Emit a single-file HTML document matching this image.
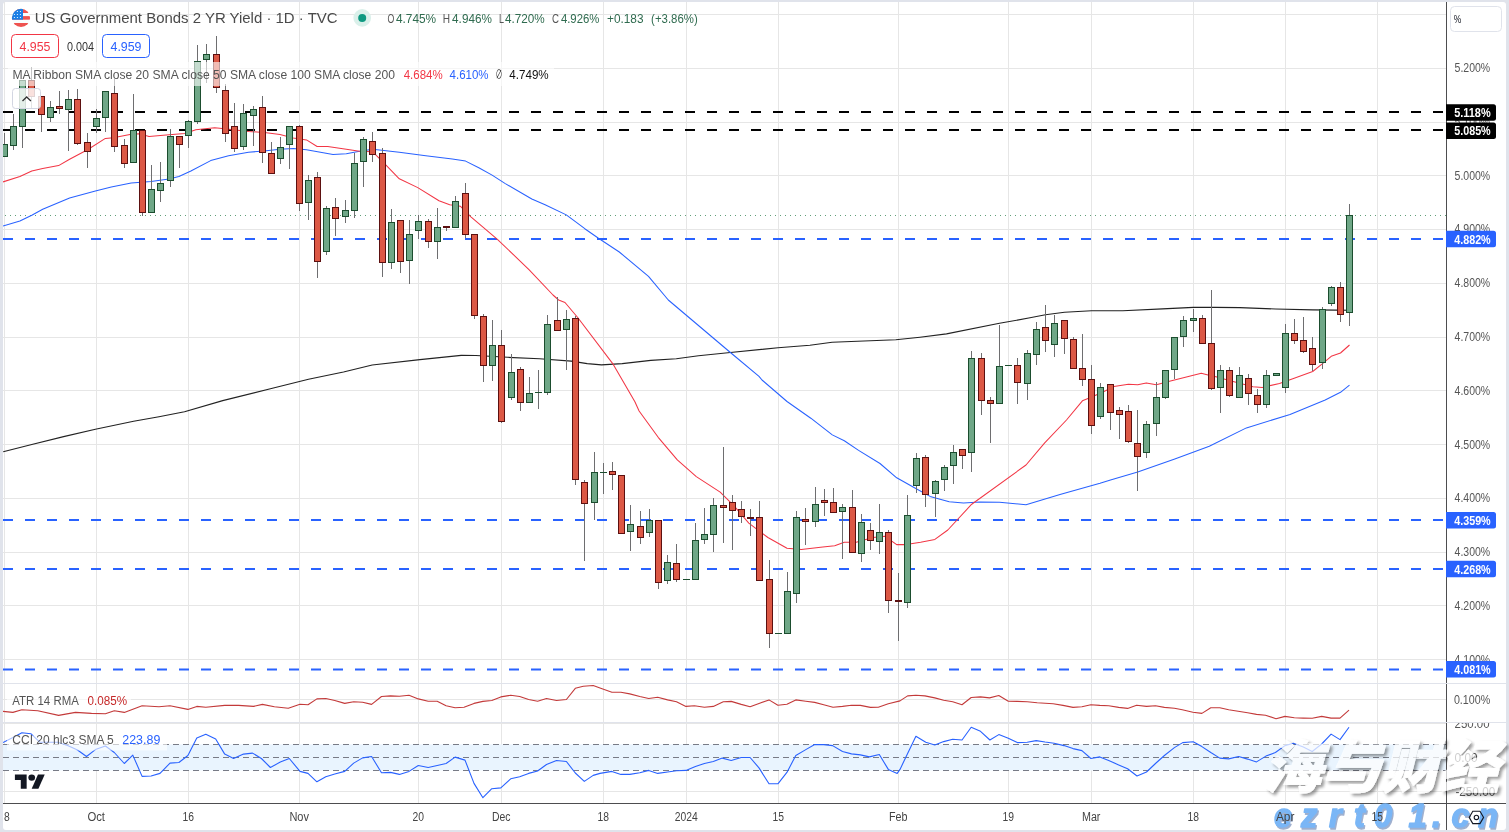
<!DOCTYPE html><html><head><meta charset="utf-8"><title>US Government Bonds 2 YR Yield</title>
<style>html,body{margin:0;padding:0;background:#e0e3eb}svg{display:block}text{font-family:"Liberation Sans","Noto Sans CJK SC",sans-serif}</style></head><body>
<svg width="1509" height="832" viewBox="0 0 1509 832">
<defs><clipPath id="plot"><rect x="3" y="2" width="1443" height="801"/></clipPath><clipPath id="flag"><circle cx="21" cy="17.9" r="9.1"/></clipPath><clipPath id="card"><rect x="3" y="2" width="1503" height="828" rx="3"/></clipPath><filter id="sh" x="-5%" y="-10%" width="110%" height="130%"><feDropShadow dx="2.5" dy="2.5" stdDeviation="1.6" flood-color="#000" flood-opacity="0.55"/></filter></defs>
<rect width="1509" height="832" fill="#e0e3eb"/>
<rect x="3" y="2" width="1503" height="828" rx="3" fill="#fff"/>
<g clip-path="url(#plot)">
<rect x="3" y="14" width="1443" height="1" fill="#e6e6e6"/>
<rect x="3" y="68" width="1443" height="1" fill="#e6e6e6"/>
<rect x="3" y="122" width="1443" height="1" fill="#e6e6e6"/>
<rect x="3" y="175" width="1443" height="1" fill="#e6e6e6"/>
<rect x="3" y="229" width="1443" height="1" fill="#e6e6e6"/>
<rect x="3" y="283" width="1443" height="1" fill="#e6e6e6"/>
<rect x="3" y="337" width="1443" height="1" fill="#e6e6e6"/>
<rect x="3" y="390" width="1443" height="1" fill="#e6e6e6"/>
<rect x="3" y="444" width="1443" height="1" fill="#e6e6e6"/>
<rect x="3" y="498" width="1443" height="1" fill="#e6e6e6"/>
<rect x="3" y="552" width="1443" height="1" fill="#e6e6e6"/>
<rect x="3" y="605" width="1443" height="1" fill="#e6e6e6"/>
<rect x="3" y="659" width="1443" height="1" fill="#e6e6e6"/>
<rect x="3" y="699" width="1443" height="1" fill="#e6e6e6"/>
<rect x="3" y="723" width="1443" height="1" fill="#e6e6e6"/>
<rect x="3" y="791" width="1443" height="1" fill="#e6e6e6"/>
<rect x="4.0" y="2" width="1" height="801" fill="#e6e6e6"/>
<rect x="96.0" y="2" width="1" height="801" fill="#e6e6e6"/>
<rect x="188.0" y="2" width="1" height="801" fill="#e6e6e6"/>
<rect x="299.0" y="2" width="1" height="801" fill="#e6e6e6"/>
<rect x="418.0" y="2" width="1" height="801" fill="#e6e6e6"/>
<rect x="501.0" y="2" width="1" height="801" fill="#e6e6e6"/>
<rect x="603.0" y="2" width="1" height="801" fill="#e6e6e6"/>
<rect x="686.0" y="2" width="1" height="801" fill="#e6e6e6"/>
<rect x="778.0" y="2" width="1" height="801" fill="#e6e6e6"/>
<rect x="898.0" y="2" width="1" height="801" fill="#e6e6e6"/>
<rect x="1008.0" y="2" width="1" height="801" fill="#e6e6e6"/>
<rect x="1091.0" y="2" width="1" height="801" fill="#e6e6e6"/>
<rect x="1193.0" y="2" width="1" height="801" fill="#e6e6e6"/>
<rect x="1285.0" y="2" width="1" height="801" fill="#e6e6e6"/>
<rect x="1377.0" y="2" width="1" height="801" fill="#e6e6e6"/>
<rect x="3" y="683" width="1503" height="1" fill="#e0e3eb"/>
<rect x="3" y="722" width="1503" height="1" fill="#e0e3eb"/>
<rect x="3" y="744.4" width="1443" height="26" fill="#e9f4fe"/>
<line x1="3" x2="1446" y1="744.5" y2="744.5" stroke="#787b86" stroke-width="1" stroke-dasharray="6 4"/>
<line x1="3" x2="1446" y1="757.5" y2="757.5" stroke="#787b86" stroke-width="1" stroke-dasharray="6 4"/>
<line x1="3" x2="1446" y1="770.5" y2="770.5" stroke="#787b86" stroke-width="1" stroke-dasharray="6 4"/>
<line x1="3" x2="1446" y1="112" y2="112" stroke="#000" stroke-width="2" stroke-dasharray="10 12"/>
<line x1="3" x2="1446" y1="130" y2="130" stroke="#000" stroke-width="2" stroke-dasharray="10 12"/>
<line x1="3" x2="1446" y1="239" y2="239" stroke="#2962ff" stroke-width="2" stroke-dasharray="10 12"/>
<line x1="3" x2="1446" y1="520" y2="520" stroke="#2962ff" stroke-width="2" stroke-dasharray="10 12"/>
<line x1="3" x2="1446" y1="569" y2="569" stroke="#2962ff" stroke-width="2" stroke-dasharray="10 12"/>
<line x1="3" x2="1446" y1="669.5" y2="669.5" stroke="#2962ff" stroke-width="2" stroke-dasharray="10 12"/>
<line x1="3" x2="1446" y1="215.5" y2="215.5" stroke="#5f9e78" stroke-width="1" stroke-dasharray="1 4" stroke-dashoffset="-2"/>
<polyline points="3.2,451.8 31.8,444.5 63.6,436.6 95.4,429.2 133.6,421.3 159.0,416.8 184.5,411.7 222.7,400.6 270.4,388.8 308.5,379.3 343.5,372.0 372.2,365.0 419.9,359.6 461.2,355.4 475.9,355.5 507.7,357.3 539.5,358.8 571.3,361.1 587.2,363.6 601.5,364.9 622.2,363.6 650.8,360.4 676.3,358.8 698.5,355.7 730.4,352.5 778.0,347.7 809.9,345.2 832.1,342.3 857.6,341.3 895.8,339.8 920.0,337.2 946.5,333.9 999.5,323.3 1030.0,317.8 1045.5,314.7 1064.5,312.2 1091.5,310.7 1122.8,310.7 1162.5,308.9 1193.4,307.4 1215.5,307.4 1239.8,307.6 1275.5,309.0 1312.7,309.9 1336.5,310.1 1349.5,310.3" fill="none" stroke="#222" stroke-width="1.15" stroke-linejoin="round"/>
<polyline points="3.0,226.0 19.9,220.9 31.8,215.3 42.7,209.3 69.6,198.0 95.4,190.9 111.3,186.9 131.2,183.1 151.1,181.5 169.0,179.1 178.9,176.5 190.9,171.0 210.7,160.6 228.6,155.7 248.5,152.3 266.4,150.7 280.0,149.2 293.3,148.6 306.5,149.7 333.0,154.5 346.3,153.7 359.5,151.3 372.8,149.2 399.3,152.3 425.8,155.8 452.3,159.0 465.6,161.1 478.8,167.7 492.1,175.1 505.3,183.6 531.8,199.0 545.1,204.8 566.3,214.9 584.8,228.7 598.1,238.0 619.3,252.0 648.5,276.4 668.3,300.0 689.0,317.5 730.4,352.5 759.0,376.3 762.0,380.0 787.0,401.5 810.8,418.2 832.3,434.9 844.3,440.8 858.6,450.4 880.0,463.5 896.7,477.8 915.8,488.5 930.1,496.4 949.2,501.7 963.5,502.9 980.0,502.1 999.5,502.2 1026.0,504.8 1060.0,494.6 1100.0,483.3 1110.5,480.0 1137.7,472.0 1174.8,459.0 1209.3,446.2 1246.4,427.9 1290.0,414.4 1325.2,400.0 1340.5,392.3 1349.5,385.2" fill="none" stroke="#2962ff" stroke-width="1.05" stroke-linejoin="round"/>
<polyline points="3.0,181.9 19.9,176.5 31.8,171.0 42.7,168.6 58.6,165.6 69.6,159.2 87.5,149.7 105.4,138.4 113.3,137.8 131.2,134.2 139.2,133.8 149.1,136.4 169.0,134.8 184.9,133.4 195.8,129.8 214.7,127.8 224.7,128.8 248.5,131.4 266.4,132.8 280.0,134.6 293.3,138.0 306.5,139.9 317.1,146.5 327.7,146.5 346.3,149.2 359.5,151.3 372.8,151.8 386.0,165.1 399.3,178.8 417.8,187.6 439.0,200.8 449.7,204.8 460.3,206.2 470.9,216.8 497.4,239.3 529.2,269.8 553.0,295.0 558.6,300.0 565.0,302.5 577.7,317.5 612.7,363.6 634.9,401.8 639.1,411.0 658.2,437.3 677.3,459.9 696.3,476.6 720.2,492.1 734.5,506.4 748.8,523.1 767.9,537.5 787.0,548.2 801.3,549.4 822.8,547.0 834.7,545.8 844.3,542.2 856.2,542.2 872.9,537.5 884.8,536.3 896.7,544.6 906.3,544.6 920.6,542.2 934.9,539.4 947.8,530.0 971.7,504.2 1026.0,465.0 1044.7,442.8 1066.5,420.0 1082.4,400.8 1092.3,396.8 1105.5,390.8 1113.9,386.6 1128.4,384.3 1137.7,384.8 1146.3,382.9 1156.3,384.8 1169.5,381.3 1201.3,373.3 1208.0,374.9 1215.9,376.8 1233.1,381.5 1253.0,386.8 1262.3,387.4 1279.5,383.4 1292.8,378.8 1312.7,371.5 1321.9,364.2 1331.2,356.3 1340.5,353.0 1349.5,345.0" fill="none" stroke="#f23645" stroke-width="1.05" stroke-linejoin="round"/>
<polyline points="3.0,711.4 12.9,712.4 21.9,709.8 37.8,710.8 58.6,715.4 75.5,712.4 91.5,713.4 105.4,713.8 114.3,710.8 124.3,712.4 142.1,705.8 159.0,706.8 170.0,705.8 187.9,709.4 196.8,706.4 205.8,707.2 224.7,705.4 238.6,705.4 253.5,706.4 262.4,704.4 274.4,706.8 288.3,708.2 300.0,704.2 308.0,704.8 316.9,698.9 325.8,698.5 334.8,700.5 344.7,703.4 353.7,701.8 362.6,702.2 371.6,704.4 381.5,696.5 390.5,695.9 399.4,696.3 409.0,695.3 418.3,698.9 428.2,701.2 437.2,701.2 446.1,705.8 455.1,707.8 464.0,707.2 474.0,703.4 482.9,701.4 491.8,700.5 500.8,696.9 510.7,695.3 519.7,696.5 528.6,699.5 537.6,701.2 546.5,698.5 556.5,700.5 566.4,699.5 575.3,688.3 583.3,686.3 593.2,685.5 600.0,687.9 611.9,692.3 620.9,692.3 629.8,693.9 639.8,696.5 648.7,698.5 657.7,697.3 667.6,699.9 676.5,701.8 685.9,706.4 694.4,705.8 704.4,707.2 713.3,706.4 723.3,701.8 731.2,701.4 741.2,704.4 750.1,706.8 759.0,703.4 769.0,699.9 777.9,705.2 786.9,704.2 795.8,699.9 805.8,701.2 814.7,702.4 823.7,704.8 833.0,707.2 842.5,706.4 851.5,705.2 860.4,705.4 870.4,707.4 878.3,707.2 888.3,703.8 900.0,700.9 907.6,695.9 915.9,695.3 924.9,695.9 934.8,697.9 943.7,700.3 952.7,701.8 962.0,704.8 971.2,697.5 980.5,696.9 989.5,697.9 998.8,695.5 1008.3,701.2 1017.3,701.4 1027.2,701.8 1037.2,702.8 1053.1,703.8 1063.0,705.4 1073.0,707.4 1081.9,706.8 1090.9,704.8 1099.8,705.4 1108.7,705.8 1118.7,707.4 1127.6,708.4 1136.6,705.2 1146.5,706.4 1155.5,705.8 1164.4,707.4 1174.4,708.2 1182.3,709.8 1192.9,712.2 1201.9,713.4 1210.8,707.8 1219.8,707.8 1228.7,709.8 1247.6,712.8 1256.5,714.4 1265.5,715.2 1276.0,718.7 1285.0,716.4 1294.3,717.7 1303.3,718.1 1312.2,718.3 1321.7,716.4 1331.1,718.1 1340.0,718.1 1349.0,710.2" fill="none" stroke="#c33a3a" stroke-width="1.1" stroke-linejoin="round"/>
<polyline points="3.0,742.6 12.9,737.6 21.9,732.7 30.8,733.7 39.8,742.2 57.7,742.2 67.6,745.6 77.5,750.0 86.5,756.5 95.4,749.6 105.4,746.0 114.3,752.5 124.3,763.5 132.8,755.1 142.1,776.4 151.1,776.0 160.0,773.4 170.0,763.1 178.9,762.5 187.9,755.5 196.8,738.0 205.8,734.3 215.7,739.0 224.7,754.1 233.6,758.5 243.5,754.1 252.5,753.1 261.4,758.5 270.4,767.5 280.3,762.1 289.3,758.5 300.0,771.4 308.0,773.4 316.9,781.8 325.8,776.8 334.8,774.0 344.7,771.4 353.7,763.1 362.6,757.9 371.6,756.5 381.5,772.8 390.5,772.4 399.4,774.4 409.0,771.4 418.3,765.5 428.2,767.5 437.2,765.5 446.1,763.5 455.1,757.1 465.0,760.1 474.0,783.4 482.9,797.7 491.8,788.7 500.8,787.9 510.7,778.8 519.7,776.8 528.6,773.4 537.6,771.0 546.5,764.5 556.5,760.5 566.4,761.5 575.3,773.0 584.3,781.4 593.2,775.4 600.0,773.4 611.9,771.4 620.9,774.4 629.8,774.4 639.8,772.8 648.7,770.4 657.7,773.4 667.6,772.0 676.5,770.8 685.9,770.4 695.4,766.5 704.4,763.5 713.3,761.5 722.3,758.1 731.2,760.5 741.2,757.5 750.1,757.5 759.0,767.9 769.0,783.8 777.9,783.8 786.9,772.4 795.8,755.5 805.8,749.6 814.7,744.6 823.7,744.6 832.6,745.6 842.5,751.5 851.5,753.9 860.4,754.9 869.4,756.9 879.3,754.5 888.3,769.4 897.2,773.4 900.0,769.4 915.9,736.2 925.8,742.2 934.8,745.0 943.7,741.6 952.7,739.2 962.0,740.0 971.2,727.3 980.5,731.3 989.9,740.0 998.8,734.6 1008.3,738.2 1017.3,742.6 1027.2,742.2 1036.2,740.6 1045.1,742.0 1054.1,743.2 1064.0,745.6 1073.0,748.6 1081.9,750.6 1090.9,758.5 1099.8,756.9 1108.7,760.5 1118.7,764.9 1127.6,768.8 1137.0,776.0 1146.5,772.0 1155.5,763.5 1164.4,755.5 1174.4,747.6 1182.7,742.6 1193.2,741.8 1201.9,746.6 1210.8,752.5 1219.8,758.1 1228.7,758.9 1238.6,756.5 1247.6,759.1 1256.5,761.9 1265.9,756.1 1275.4,752.5 1285.0,745.6 1293.3,743.2 1303.3,747.0 1312.2,751.5 1321.7,744.0 1331.1,734.1 1340.0,739.6 1349.0,727.3" fill="none" stroke="#2962ff" stroke-width="1.1" stroke-linejoin="round"/>
<rect x="4.0" y="133" width="1" height="11" fill="#6e6e70"/>
<rect x="1.5" y="144.5" width="6" height="12" fill="#6fa787" stroke="#1b4d2e" stroke-width="1"/>
<rect x="13.0" y="114" width="1" height="12" fill="#6e6e70"/>
<rect x="13.0" y="146" width="1" height="4" fill="#6e6e70"/>
<rect x="10.5" y="126.5" width="6" height="19" fill="#6fa787" stroke="#1b4d2e" stroke-width="1"/>
<rect x="22.0" y="127" width="1" height="21" fill="#6e6e70"/>
<rect x="19.5" y="80.5" width="6" height="46" fill="#6fa787" stroke="#1b4d2e" stroke-width="1"/>
<rect x="31.0" y="67" width="1" height="13" fill="#6e6e70"/>
<rect x="31.0" y="97" width="1" height="12" fill="#6e6e70"/>
<rect x="28.5" y="80.5" width="6" height="16" fill="#dc5845" stroke="#5c1010" stroke-width="1"/>
<rect x="41.0" y="115" width="1" height="17" fill="#6e6e70"/>
<rect x="38.5" y="96.5" width="6" height="18" fill="#dc5845" stroke="#5c1010" stroke-width="1"/>
<rect x="50.0" y="101" width="1" height="6" fill="#6e6e70"/>
<rect x="50.0" y="118" width="1" height="4" fill="#6e6e70"/>
<rect x="47.5" y="107.5" width="6" height="10" fill="#6fa787" stroke="#1b4d2e" stroke-width="1"/>
<rect x="59.0" y="91" width="1" height="15" fill="#6e6e70"/>
<rect x="59.0" y="109" width="1" height="5" fill="#6e6e70"/>
<rect x="56.5" y="106.5" width="6" height="2" fill="#dc5845" stroke="#5c1010" stroke-width="1"/>
<rect x="68.0" y="90" width="1" height="9" fill="#6e6e70"/>
<rect x="68.0" y="110" width="1" height="41" fill="#6e6e70"/>
<rect x="65.5" y="99.5" width="6" height="10" fill="#6fa787" stroke="#1b4d2e" stroke-width="1"/>
<rect x="77.0" y="89" width="1" height="10" fill="#6e6e70"/>
<rect x="77.0" y="144" width="1" height="1" fill="#6e6e70"/>
<rect x="74.5" y="99.5" width="6" height="44" fill="#dc5845" stroke="#5c1010" stroke-width="1"/>
<rect x="87.0" y="133" width="1" height="9" fill="#6e6e70"/>
<rect x="87.0" y="152" width="1" height="16" fill="#6e6e70"/>
<rect x="84.5" y="142.5" width="6" height="9" fill="#dc5845" stroke="#5c1010" stroke-width="1"/>
<rect x="96.0" y="109" width="1" height="9" fill="#6e6e70"/>
<rect x="96.0" y="127" width="1" height="6" fill="#6e6e70"/>
<rect x="93.5" y="118.5" width="6" height="8" fill="#6fa787" stroke="#1b4d2e" stroke-width="1"/>
<rect x="105.0" y="118" width="1" height="14" fill="#6e6e70"/>
<rect x="102.5" y="91.5" width="6" height="26" fill="#6fa787" stroke="#1b4d2e" stroke-width="1"/>
<rect x="114.0" y="79" width="1" height="14" fill="#6e6e70"/>
<rect x="114.0" y="147" width="1" height="5" fill="#6e6e70"/>
<rect x="111.5" y="93.5" width="6" height="53" fill="#dc5845" stroke="#5c1010" stroke-width="1"/>
<rect x="124.0" y="139" width="1" height="6" fill="#6e6e70"/>
<rect x="124.0" y="164" width="1" height="4" fill="#6e6e70"/>
<rect x="121.5" y="145.5" width="6" height="18" fill="#dc5845" stroke="#5c1010" stroke-width="1"/>
<rect x="133.0" y="94" width="1" height="36" fill="#6e6e70"/>
<rect x="130.5" y="130.5" width="6" height="32" fill="#6fa787" stroke="#1b4d2e" stroke-width="1"/>
<rect x="142.0" y="213" width="1" height="3" fill="#6e6e70"/>
<rect x="139.5" y="130.5" width="6" height="82" fill="#dc5845" stroke="#5c1010" stroke-width="1"/>
<rect x="151.0" y="165" width="1" height="24" fill="#6e6e70"/>
<rect x="148.5" y="189.5" width="6" height="23" fill="#6fa787" stroke="#1b4d2e" stroke-width="1"/>
<rect x="160.0" y="162" width="1" height="21" fill="#6e6e70"/>
<rect x="160.0" y="191" width="1" height="11" fill="#6e6e70"/>
<rect x="157.5" y="183.5" width="6" height="7" fill="#6fa787" stroke="#1b4d2e" stroke-width="1"/>
<rect x="170.0" y="129" width="1" height="7" fill="#6e6e70"/>
<rect x="170.0" y="181" width="1" height="6" fill="#6e6e70"/>
<rect x="167.5" y="136.5" width="6" height="44" fill="#6fa787" stroke="#1b4d2e" stroke-width="1"/>
<rect x="179.0" y="145" width="1" height="23" fill="#6e6e70"/>
<rect x="176.5" y="136.5" width="6" height="8" fill="#dc5845" stroke="#5c1010" stroke-width="1"/>
<rect x="188.0" y="120" width="1" height="1" fill="#6e6e70"/>
<rect x="188.0" y="136" width="1" height="12" fill="#6e6e70"/>
<rect x="185.5" y="121.5" width="6" height="14" fill="#6fa787" stroke="#1b4d2e" stroke-width="1"/>
<rect x="197.0" y="45" width="1" height="16" fill="#6e6e70"/>
<rect x="197.0" y="122" width="1" height="2" fill="#6e6e70"/>
<rect x="194.5" y="61.5" width="6" height="60" fill="#6fa787" stroke="#1b4d2e" stroke-width="1"/>
<rect x="206.0" y="44" width="1" height="10" fill="#6e6e70"/>
<rect x="206.0" y="60" width="1" height="23" fill="#6e6e70"/>
<rect x="203.5" y="54.5" width="6" height="5" fill="#6fa787" stroke="#1b4d2e" stroke-width="1"/>
<rect x="216.0" y="36" width="1" height="18" fill="#6e6e70"/>
<rect x="216.0" y="88" width="1" height="5" fill="#6e6e70"/>
<rect x="213.5" y="54.5" width="6" height="33" fill="#dc5845" stroke="#5c1010" stroke-width="1"/>
<rect x="225.0" y="84" width="1" height="6" fill="#6e6e70"/>
<rect x="225.0" y="134" width="1" height="8" fill="#6e6e70"/>
<rect x="222.5" y="90.5" width="6" height="43" fill="#dc5845" stroke="#5c1010" stroke-width="1"/>
<rect x="234.0" y="103" width="1" height="23" fill="#6e6e70"/>
<rect x="234.0" y="149" width="1" height="3" fill="#6e6e70"/>
<rect x="231.5" y="126.5" width="6" height="22" fill="#dc5845" stroke="#5c1010" stroke-width="1"/>
<rect x="243.0" y="104" width="1" height="9" fill="#6e6e70"/>
<rect x="243.0" y="147" width="1" height="3" fill="#6e6e70"/>
<rect x="240.5" y="113.5" width="6" height="33" fill="#6fa787" stroke="#1b4d2e" stroke-width="1"/>
<rect x="253.0" y="106" width="1" height="3" fill="#6e6e70"/>
<rect x="253.0" y="116" width="1" height="30" fill="#6e6e70"/>
<rect x="250.5" y="109.5" width="6" height="6" fill="#6fa787" stroke="#1b4d2e" stroke-width="1"/>
<rect x="262.0" y="96" width="1" height="11" fill="#6e6e70"/>
<rect x="262.0" y="153" width="1" height="10" fill="#6e6e70"/>
<rect x="259.5" y="107.5" width="6" height="45" fill="#dc5845" stroke="#5c1010" stroke-width="1"/>
<rect x="271.0" y="142" width="1" height="11" fill="#6e6e70"/>
<rect x="268.5" y="153.5" width="6" height="20" fill="#dc5845" stroke="#5c1010" stroke-width="1"/>
<rect x="280.0" y="137" width="1" height="10" fill="#6e6e70"/>
<rect x="280.0" y="159" width="1" height="5" fill="#6e6e70"/>
<rect x="277.5" y="147.5" width="6" height="11" fill="#6fa787" stroke="#1b4d2e" stroke-width="1"/>
<rect x="289.0" y="145" width="1" height="24" fill="#6e6e70"/>
<rect x="286.5" y="126.5" width="6" height="18" fill="#6fa787" stroke="#1b4d2e" stroke-width="1"/>
<rect x="299.0" y="125" width="1" height="1" fill="#6e6e70"/>
<rect x="299.0" y="204" width="1" height="7" fill="#6e6e70"/>
<rect x="296.5" y="126.5" width="6" height="77" fill="#dc5845" stroke="#5c1010" stroke-width="1"/>
<rect x="308.0" y="175" width="1" height="5" fill="#6e6e70"/>
<rect x="308.0" y="203" width="1" height="17" fill="#6e6e70"/>
<rect x="305.5" y="180.5" width="6" height="22" fill="#6fa787" stroke="#1b4d2e" stroke-width="1"/>
<rect x="317.0" y="172" width="1" height="5" fill="#6e6e70"/>
<rect x="317.0" y="262" width="1" height="16" fill="#6e6e70"/>
<rect x="314.5" y="177.5" width="6" height="84" fill="#dc5845" stroke="#5c1010" stroke-width="1"/>
<rect x="326.0" y="206" width="1" height="2" fill="#6e6e70"/>
<rect x="326.0" y="252" width="1" height="3" fill="#6e6e70"/>
<rect x="323.5" y="208.5" width="6" height="43" fill="#6fa787" stroke="#1b4d2e" stroke-width="1"/>
<rect x="335.0" y="198" width="1" height="9" fill="#6e6e70"/>
<rect x="335.0" y="219" width="1" height="17" fill="#6e6e70"/>
<rect x="332.5" y="207.5" width="6" height="11" fill="#dc5845" stroke="#5c1010" stroke-width="1"/>
<rect x="345.0" y="200" width="1" height="10" fill="#6e6e70"/>
<rect x="345.0" y="217" width="1" height="6" fill="#6e6e70"/>
<rect x="342.5" y="210.5" width="6" height="6" fill="#6fa787" stroke="#1b4d2e" stroke-width="1"/>
<rect x="354.0" y="153" width="1" height="10" fill="#6e6e70"/>
<rect x="354.0" y="211" width="1" height="7" fill="#6e6e70"/>
<rect x="351.5" y="163.5" width="6" height="47" fill="#6fa787" stroke="#1b4d2e" stroke-width="1"/>
<rect x="363.0" y="137" width="1" height="2" fill="#6e6e70"/>
<rect x="363.0" y="162" width="1" height="25" fill="#6e6e70"/>
<rect x="360.5" y="139.5" width="6" height="22" fill="#6fa787" stroke="#1b4d2e" stroke-width="1"/>
<rect x="372.0" y="132" width="1" height="9" fill="#6e6e70"/>
<rect x="372.0" y="155" width="1" height="7" fill="#6e6e70"/>
<rect x="369.5" y="141.5" width="6" height="13" fill="#dc5845" stroke="#5c1010" stroke-width="1"/>
<rect x="382.0" y="148" width="1" height="5" fill="#6e6e70"/>
<rect x="382.0" y="263" width="1" height="14" fill="#6e6e70"/>
<rect x="379.5" y="153.5" width="6" height="109" fill="#dc5845" stroke="#5c1010" stroke-width="1"/>
<rect x="391.0" y="209" width="1" height="13" fill="#6e6e70"/>
<rect x="391.0" y="263" width="1" height="6" fill="#6e6e70"/>
<rect x="388.5" y="222.5" width="6" height="40" fill="#6fa787" stroke="#1b4d2e" stroke-width="1"/>
<rect x="400.0" y="262" width="1" height="11" fill="#6e6e70"/>
<rect x="397.5" y="220.5" width="6" height="41" fill="#dc5845" stroke="#5c1010" stroke-width="1"/>
<rect x="409.0" y="220" width="1" height="14" fill="#6e6e70"/>
<rect x="409.0" y="261" width="1" height="23" fill="#6e6e70"/>
<rect x="406.5" y="234.5" width="6" height="26" fill="#6fa787" stroke="#1b4d2e" stroke-width="1"/>
<rect x="418.0" y="215" width="1" height="6" fill="#6e6e70"/>
<rect x="418.0" y="231" width="1" height="8" fill="#6e6e70"/>
<rect x="415.5" y="221.5" width="6" height="9" fill="#6fa787" stroke="#1b4d2e" stroke-width="1"/>
<rect x="428.0" y="219" width="1" height="2" fill="#6e6e70"/>
<rect x="428.0" y="242" width="1" height="6" fill="#6e6e70"/>
<rect x="425.5" y="221.5" width="6" height="20" fill="#dc5845" stroke="#5c1010" stroke-width="1"/>
<rect x="437.0" y="208" width="1" height="19" fill="#6e6e70"/>
<rect x="437.0" y="242" width="1" height="17" fill="#6e6e70"/>
<rect x="434.5" y="227.5" width="6" height="14" fill="#6fa787" stroke="#1b4d2e" stroke-width="1"/>
<rect x="446.0" y="228" width="1" height="3" fill="#6e6e70"/>
<rect x="443.0" y="226" width="7" height="2" fill="#5c1010"/>
<rect x="455.0" y="196" width="1" height="5" fill="#6e6e70"/>
<rect x="452.5" y="201.5" width="6" height="26" fill="#6fa787" stroke="#1b4d2e" stroke-width="1"/>
<rect x="465.0" y="183" width="1" height="10" fill="#6e6e70"/>
<rect x="465.0" y="235" width="1" height="3" fill="#6e6e70"/>
<rect x="462.5" y="193.5" width="6" height="41" fill="#dc5845" stroke="#5c1010" stroke-width="1"/>
<rect x="474.0" y="316" width="1" height="3" fill="#6e6e70"/>
<rect x="471.5" y="234.5" width="6" height="81" fill="#dc5845" stroke="#5c1010" stroke-width="1"/>
<rect x="483.0" y="314" width="1" height="2" fill="#6e6e70"/>
<rect x="483.0" y="366" width="1" height="16" fill="#6e6e70"/>
<rect x="480.5" y="316.5" width="6" height="49" fill="#dc5845" stroke="#5c1010" stroke-width="1"/>
<rect x="492.0" y="320" width="1" height="25" fill="#6e6e70"/>
<rect x="492.0" y="366" width="1" height="15" fill="#6e6e70"/>
<rect x="489.5" y="345.5" width="6" height="20" fill="#6fa787" stroke="#1b4d2e" stroke-width="1"/>
<rect x="501.0" y="330" width="1" height="15" fill="#6e6e70"/>
<rect x="501.0" y="422" width="1" height="1" fill="#6e6e70"/>
<rect x="498.5" y="345.5" width="6" height="76" fill="#dc5845" stroke="#5c1010" stroke-width="1"/>
<rect x="511.0" y="354" width="1" height="18" fill="#6e6e70"/>
<rect x="511.0" y="398" width="1" height="2" fill="#6e6e70"/>
<rect x="508.5" y="372.5" width="6" height="25" fill="#6fa787" stroke="#1b4d2e" stroke-width="1"/>
<rect x="520.0" y="367" width="1" height="2" fill="#6e6e70"/>
<rect x="520.0" y="403" width="1" height="8" fill="#6e6e70"/>
<rect x="517.5" y="369.5" width="6" height="33" fill="#dc5845" stroke="#5c1010" stroke-width="1"/>
<rect x="529.0" y="377" width="1" height="16" fill="#6e6e70"/>
<rect x="526.5" y="393.5" width="6" height="9" fill="#6fa787" stroke="#1b4d2e" stroke-width="1"/>
<rect x="538.0" y="370" width="1" height="22" fill="#6e6e70"/>
<rect x="538.0" y="393" width="1" height="16" fill="#6e6e70"/>
<rect x="535.0" y="392" width="7" height="1" fill="#1b4d2e"/>
<rect x="547.0" y="315" width="1" height="9" fill="#6e6e70"/>
<rect x="547.0" y="393" width="1" height="2" fill="#6e6e70"/>
<rect x="544.5" y="324.5" width="6" height="68" fill="#6fa787" stroke="#1b4d2e" stroke-width="1"/>
<rect x="557.0" y="297" width="1" height="23" fill="#6e6e70"/>
<rect x="554.5" y="320.5" width="6" height="10" fill="#dc5845" stroke="#5c1010" stroke-width="1"/>
<rect x="566.0" y="310" width="1" height="9" fill="#6e6e70"/>
<rect x="566.0" y="330" width="1" height="40" fill="#6e6e70"/>
<rect x="563.5" y="319.5" width="6" height="10" fill="#6fa787" stroke="#1b4d2e" stroke-width="1"/>
<rect x="575.0" y="316" width="1" height="2" fill="#6e6e70"/>
<rect x="575.0" y="480" width="1" height="5" fill="#6e6e70"/>
<rect x="572.5" y="318.5" width="6" height="161" fill="#dc5845" stroke="#5c1010" stroke-width="1"/>
<rect x="584.0" y="480" width="1" height="2" fill="#6e6e70"/>
<rect x="584.0" y="504" width="1" height="57" fill="#6e6e70"/>
<rect x="581.5" y="482.5" width="6" height="21" fill="#dc5845" stroke="#5c1010" stroke-width="1"/>
<rect x="594.0" y="452" width="1" height="20" fill="#6e6e70"/>
<rect x="594.0" y="503" width="1" height="17" fill="#6e6e70"/>
<rect x="591.5" y="472.5" width="6" height="30" fill="#6fa787" stroke="#1b4d2e" stroke-width="1"/>
<rect x="603.0" y="463" width="1" height="9" fill="#6e6e70"/>
<rect x="603.0" y="473" width="1" height="21" fill="#6e6e70"/>
<rect x="600.0" y="472" width="7" height="1" fill="#1b4d2e"/>
<rect x="612.0" y="462" width="1" height="9" fill="#6e6e70"/>
<rect x="612.0" y="475" width="1" height="15" fill="#6e6e70"/>
<rect x="609.5" y="471.5" width="6" height="3" fill="#dc5845" stroke="#5c1010" stroke-width="1"/>
<rect x="618.5" y="475.5" width="6" height="58" fill="#dc5845" stroke="#5c1010" stroke-width="1"/>
<rect x="630.0" y="505" width="1" height="19" fill="#6e6e70"/>
<rect x="630.0" y="532" width="1" height="19" fill="#6e6e70"/>
<rect x="627.5" y="524.5" width="6" height="7" fill="#6fa787" stroke="#1b4d2e" stroke-width="1"/>
<rect x="640.0" y="511" width="1" height="15" fill="#6e6e70"/>
<rect x="640.0" y="538" width="1" height="6" fill="#6e6e70"/>
<rect x="637.5" y="526.5" width="6" height="11" fill="#dc5845" stroke="#5c1010" stroke-width="1"/>
<rect x="649.0" y="509" width="1" height="11" fill="#6e6e70"/>
<rect x="649.0" y="533" width="1" height="4" fill="#6e6e70"/>
<rect x="646.5" y="520.5" width="6" height="12" fill="#6fa787" stroke="#1b4d2e" stroke-width="1"/>
<rect x="658.0" y="583" width="1" height="6" fill="#6e6e70"/>
<rect x="655.5" y="520.5" width="6" height="62" fill="#dc5845" stroke="#5c1010" stroke-width="1"/>
<rect x="667.0" y="555" width="1" height="7" fill="#6e6e70"/>
<rect x="667.0" y="581" width="1" height="3" fill="#6e6e70"/>
<rect x="664.5" y="562.5" width="6" height="18" fill="#6fa787" stroke="#1b4d2e" stroke-width="1"/>
<rect x="676.0" y="544" width="1" height="19" fill="#6e6e70"/>
<rect x="676.0" y="580" width="1" height="2" fill="#6e6e70"/>
<rect x="673.5" y="563.5" width="6" height="16" fill="#dc5845" stroke="#5c1010" stroke-width="1"/>
<rect x="683.0" y="579" width="7" height="1" fill="#1b4d2e"/>
<rect x="695.0" y="523" width="1" height="17" fill="#6e6e70"/>
<rect x="692.5" y="540.5" width="6" height="39" fill="#6fa787" stroke="#1b4d2e" stroke-width="1"/>
<rect x="704.0" y="508" width="1" height="26" fill="#6e6e70"/>
<rect x="704.0" y="540" width="1" height="4" fill="#6e6e70"/>
<rect x="701.5" y="534.5" width="6" height="5" fill="#6fa787" stroke="#1b4d2e" stroke-width="1"/>
<rect x="713.0" y="498" width="1" height="7" fill="#6e6e70"/>
<rect x="713.0" y="535" width="1" height="17" fill="#6e6e70"/>
<rect x="710.5" y="505.5" width="6" height="29" fill="#6fa787" stroke="#1b4d2e" stroke-width="1"/>
<rect x="723.0" y="447" width="1" height="58" fill="#6e6e70"/>
<rect x="723.0" y="508" width="1" height="35" fill="#6e6e70"/>
<rect x="720.5" y="505.5" width="6" height="2" fill="#dc5845" stroke="#5c1010" stroke-width="1"/>
<rect x="732.0" y="495" width="1" height="7" fill="#6e6e70"/>
<rect x="732.0" y="511" width="1" height="39" fill="#6e6e70"/>
<rect x="729.5" y="502.5" width="6" height="8" fill="#dc5845" stroke="#5c1010" stroke-width="1"/>
<rect x="741.0" y="501" width="1" height="8" fill="#6e6e70"/>
<rect x="741.0" y="517" width="1" height="6" fill="#6e6e70"/>
<rect x="738.5" y="509.5" width="6" height="7" fill="#dc5845" stroke="#5c1010" stroke-width="1"/>
<rect x="750.0" y="509" width="1" height="8" fill="#6e6e70"/>
<rect x="750.0" y="519" width="1" height="17" fill="#6e6e70"/>
<rect x="747.0" y="517" width="7" height="2" fill="#5c1010"/>
<rect x="759.0" y="501" width="1" height="16" fill="#6e6e70"/>
<rect x="756.5" y="517.5" width="6" height="63" fill="#dc5845" stroke="#5c1010" stroke-width="1"/>
<rect x="769.0" y="560" width="1" height="19" fill="#6e6e70"/>
<rect x="769.0" y="634" width="1" height="14" fill="#6e6e70"/>
<rect x="766.5" y="579.5" width="6" height="54" fill="#dc5845" stroke="#5c1010" stroke-width="1"/>
<rect x="775.0" y="633" width="7" height="1" fill="#1b4d2e"/>
<rect x="787.0" y="572" width="1" height="19" fill="#6e6e70"/>
<rect x="784.5" y="591.5" width="6" height="42" fill="#6fa787" stroke="#1b4d2e" stroke-width="1"/>
<rect x="796.0" y="511" width="1" height="6" fill="#6e6e70"/>
<rect x="796.0" y="594" width="1" height="9" fill="#6e6e70"/>
<rect x="793.5" y="517.5" width="6" height="76" fill="#6fa787" stroke="#1b4d2e" stroke-width="1"/>
<rect x="805.0" y="508" width="1" height="11" fill="#6e6e70"/>
<rect x="805.0" y="522" width="1" height="23" fill="#6e6e70"/>
<rect x="802.5" y="519.5" width="6" height="2" fill="#dc5845" stroke="#5c1010" stroke-width="1"/>
<rect x="815.0" y="487" width="1" height="17" fill="#6e6e70"/>
<rect x="815.0" y="522" width="1" height="5" fill="#6e6e70"/>
<rect x="812.5" y="504.5" width="6" height="17" fill="#6fa787" stroke="#1b4d2e" stroke-width="1"/>
<rect x="824.0" y="489" width="1" height="11" fill="#6e6e70"/>
<rect x="824.0" y="503" width="1" height="13" fill="#6e6e70"/>
<rect x="821.5" y="500.5" width="6" height="2" fill="#dc5845" stroke="#5c1010" stroke-width="1"/>
<rect x="833.0" y="488" width="1" height="14" fill="#6e6e70"/>
<rect x="830.5" y="502.5" width="6" height="10" fill="#dc5845" stroke="#5c1010" stroke-width="1"/>
<rect x="842.0" y="504" width="1" height="3" fill="#6e6e70"/>
<rect x="842.0" y="512" width="1" height="47" fill="#6e6e70"/>
<rect x="839.5" y="507.5" width="6" height="4" fill="#6fa787" stroke="#1b4d2e" stroke-width="1"/>
<rect x="852.0" y="490" width="1" height="17" fill="#6e6e70"/>
<rect x="849.5" y="507.5" width="6" height="45" fill="#dc5845" stroke="#5c1010" stroke-width="1"/>
<rect x="861.0" y="514" width="1" height="8" fill="#6e6e70"/>
<rect x="861.0" y="554" width="1" height="8" fill="#6e6e70"/>
<rect x="858.5" y="522.5" width="6" height="31" fill="#6fa787" stroke="#1b4d2e" stroke-width="1"/>
<rect x="870.0" y="523" width="1" height="7" fill="#6e6e70"/>
<rect x="870.0" y="541" width="1" height="9" fill="#6e6e70"/>
<rect x="867.5" y="530.5" width="6" height="10" fill="#dc5845" stroke="#5c1010" stroke-width="1"/>
<rect x="879.0" y="504" width="1" height="28" fill="#6e6e70"/>
<rect x="879.0" y="542" width="1" height="12" fill="#6e6e70"/>
<rect x="876.5" y="532.5" width="6" height="9" fill="#6fa787" stroke="#1b4d2e" stroke-width="1"/>
<rect x="888.0" y="530" width="1" height="2" fill="#6e6e70"/>
<rect x="888.0" y="601" width="1" height="12" fill="#6e6e70"/>
<rect x="885.5" y="532.5" width="6" height="68" fill="#dc5845" stroke="#5c1010" stroke-width="1"/>
<rect x="898.0" y="573" width="1" height="27" fill="#6e6e70"/>
<rect x="898.0" y="602" width="1" height="39" fill="#6e6e70"/>
<rect x="895.0" y="600" width="7" height="2" fill="#5c1010"/>
<rect x="907.0" y="495" width="1" height="20" fill="#6e6e70"/>
<rect x="907.0" y="603" width="1" height="5" fill="#6e6e70"/>
<rect x="904.5" y="515.5" width="6" height="87" fill="#6fa787" stroke="#1b4d2e" stroke-width="1"/>
<rect x="916.0" y="453" width="1" height="5" fill="#6e6e70"/>
<rect x="916.0" y="486" width="1" height="7" fill="#6e6e70"/>
<rect x="913.5" y="458.5" width="6" height="27" fill="#6fa787" stroke="#1b4d2e" stroke-width="1"/>
<rect x="925.0" y="455" width="1" height="2" fill="#6e6e70"/>
<rect x="925.0" y="495" width="1" height="12" fill="#6e6e70"/>
<rect x="922.5" y="457.5" width="6" height="37" fill="#dc5845" stroke="#5c1010" stroke-width="1"/>
<rect x="935.0" y="480" width="1" height="1" fill="#6e6e70"/>
<rect x="935.0" y="494" width="1" height="23" fill="#6e6e70"/>
<rect x="932.5" y="481.5" width="6" height="12" fill="#6fa787" stroke="#1b4d2e" stroke-width="1"/>
<rect x="944.0" y="465" width="1" height="2" fill="#6e6e70"/>
<rect x="944.0" y="480" width="1" height="11" fill="#6e6e70"/>
<rect x="941.5" y="467.5" width="6" height="12" fill="#6fa787" stroke="#1b4d2e" stroke-width="1"/>
<rect x="953.0" y="445" width="1" height="7" fill="#6e6e70"/>
<rect x="953.0" y="466" width="1" height="18" fill="#6e6e70"/>
<rect x="950.5" y="452.5" width="6" height="13" fill="#6fa787" stroke="#1b4d2e" stroke-width="1"/>
<rect x="962.0" y="456" width="1" height="13" fill="#6e6e70"/>
<rect x="959.5" y="449.5" width="6" height="6" fill="#dc5845" stroke="#5c1010" stroke-width="1"/>
<rect x="971.0" y="351" width="1" height="7" fill="#6e6e70"/>
<rect x="971.0" y="453" width="1" height="19" fill="#6e6e70"/>
<rect x="968.5" y="358.5" width="6" height="94" fill="#6fa787" stroke="#1b4d2e" stroke-width="1"/>
<rect x="981.0" y="353" width="1" height="5" fill="#6e6e70"/>
<rect x="981.0" y="401" width="1" height="14" fill="#6e6e70"/>
<rect x="978.5" y="358.5" width="6" height="42" fill="#dc5845" stroke="#5c1010" stroke-width="1"/>
<rect x="990.0" y="397" width="1" height="3" fill="#6e6e70"/>
<rect x="990.0" y="404" width="1" height="39" fill="#6e6e70"/>
<rect x="987.5" y="400.5" width="6" height="3" fill="#dc5845" stroke="#5c1010" stroke-width="1"/>
<rect x="999.0" y="325" width="1" height="41" fill="#6e6e70"/>
<rect x="996.5" y="366.5" width="6" height="37" fill="#6fa787" stroke="#1b4d2e" stroke-width="1"/>
<rect x="1005.0" y="365" width="7" height="1" fill="#1b4d2e"/>
<rect x="1017.0" y="358" width="1" height="7" fill="#6e6e70"/>
<rect x="1017.0" y="383" width="1" height="21" fill="#6e6e70"/>
<rect x="1014.5" y="365.5" width="6" height="17" fill="#dc5845" stroke="#5c1010" stroke-width="1"/>
<rect x="1027.0" y="350" width="1" height="3" fill="#6e6e70"/>
<rect x="1027.0" y="384" width="1" height="16" fill="#6e6e70"/>
<rect x="1024.5" y="353.5" width="6" height="30" fill="#6fa787" stroke="#1b4d2e" stroke-width="1"/>
<rect x="1036.0" y="322" width="1" height="7" fill="#6e6e70"/>
<rect x="1036.0" y="355" width="1" height="10" fill="#6e6e70"/>
<rect x="1033.5" y="329.5" width="6" height="25" fill="#6fa787" stroke="#1b4d2e" stroke-width="1"/>
<rect x="1045.0" y="305" width="1" height="22" fill="#6e6e70"/>
<rect x="1045.0" y="341" width="1" height="11" fill="#6e6e70"/>
<rect x="1042.5" y="327.5" width="6" height="13" fill="#dc5845" stroke="#5c1010" stroke-width="1"/>
<rect x="1054.0" y="315" width="1" height="8" fill="#6e6e70"/>
<rect x="1054.0" y="345" width="1" height="12" fill="#6e6e70"/>
<rect x="1051.5" y="323.5" width="6" height="21" fill="#6fa787" stroke="#1b4d2e" stroke-width="1"/>
<rect x="1064.0" y="339" width="1" height="15" fill="#6e6e70"/>
<rect x="1061.5" y="320.5" width="6" height="18" fill="#dc5845" stroke="#5c1010" stroke-width="1"/>
<rect x="1073.0" y="337" width="1" height="2" fill="#6e6e70"/>
<rect x="1070.5" y="339.5" width="6" height="29" fill="#dc5845" stroke="#5c1010" stroke-width="1"/>
<rect x="1082.0" y="334" width="1" height="34" fill="#6e6e70"/>
<rect x="1082.0" y="380" width="1" height="6" fill="#6e6e70"/>
<rect x="1079.5" y="368.5" width="6" height="11" fill="#dc5845" stroke="#5c1010" stroke-width="1"/>
<rect x="1091.0" y="365" width="1" height="14" fill="#6e6e70"/>
<rect x="1091.0" y="426" width="1" height="8" fill="#6e6e70"/>
<rect x="1088.5" y="379.5" width="6" height="46" fill="#dc5845" stroke="#5c1010" stroke-width="1"/>
<rect x="1100.0" y="383" width="1" height="4" fill="#6e6e70"/>
<rect x="1100.0" y="417" width="1" height="2" fill="#6e6e70"/>
<rect x="1097.5" y="387.5" width="6" height="29" fill="#6fa787" stroke="#1b4d2e" stroke-width="1"/>
<rect x="1110.0" y="413" width="1" height="17" fill="#6e6e70"/>
<rect x="1107.5" y="384.5" width="6" height="28" fill="#dc5845" stroke="#5c1010" stroke-width="1"/>
<rect x="1119.0" y="407" width="1" height="3" fill="#6e6e70"/>
<rect x="1119.0" y="415" width="1" height="24" fill="#6e6e70"/>
<rect x="1116.5" y="410.5" width="6" height="4" fill="#dc5845" stroke="#5c1010" stroke-width="1"/>
<rect x="1128.0" y="405" width="1" height="6" fill="#6e6e70"/>
<rect x="1128.0" y="442" width="1" height="1" fill="#6e6e70"/>
<rect x="1125.5" y="411.5" width="6" height="30" fill="#dc5845" stroke="#5c1010" stroke-width="1"/>
<rect x="1137.0" y="410" width="1" height="33" fill="#6e6e70"/>
<rect x="1137.0" y="457" width="1" height="34" fill="#6e6e70"/>
<rect x="1134.5" y="443.5" width="6" height="13" fill="#dc5845" stroke="#5c1010" stroke-width="1"/>
<rect x="1146.0" y="421" width="1" height="3" fill="#6e6e70"/>
<rect x="1146.0" y="453" width="1" height="5" fill="#6e6e70"/>
<rect x="1143.5" y="424.5" width="6" height="28" fill="#6fa787" stroke="#1b4d2e" stroke-width="1"/>
<rect x="1156.0" y="382" width="1" height="15" fill="#6e6e70"/>
<rect x="1156.0" y="424" width="1" height="12" fill="#6e6e70"/>
<rect x="1153.5" y="397.5" width="6" height="26" fill="#6fa787" stroke="#1b4d2e" stroke-width="1"/>
<rect x="1165.0" y="398" width="1" height="1" fill="#6e6e70"/>
<rect x="1162.5" y="370.5" width="6" height="27" fill="#6fa787" stroke="#1b4d2e" stroke-width="1"/>
<rect x="1174.0" y="370" width="1" height="9" fill="#6e6e70"/>
<rect x="1171.5" y="337.5" width="6" height="32" fill="#6fa787" stroke="#1b4d2e" stroke-width="1"/>
<rect x="1183.0" y="316" width="1" height="4" fill="#6e6e70"/>
<rect x="1183.0" y="337" width="1" height="10" fill="#6e6e70"/>
<rect x="1180.5" y="320.5" width="6" height="16" fill="#6fa787" stroke="#1b4d2e" stroke-width="1"/>
<rect x="1193.0" y="309" width="1" height="9" fill="#6e6e70"/>
<rect x="1193.0" y="321" width="1" height="11" fill="#6e6e70"/>
<rect x="1190.5" y="318.5" width="6" height="2" fill="#6fa787" stroke="#1b4d2e" stroke-width="1"/>
<rect x="1202.0" y="315" width="1" height="3" fill="#6e6e70"/>
<rect x="1199.5" y="318.5" width="6" height="25" fill="#dc5845" stroke="#5c1010" stroke-width="1"/>
<rect x="1211.0" y="290" width="1" height="53" fill="#6e6e70"/>
<rect x="1211.0" y="389" width="1" height="1" fill="#6e6e70"/>
<rect x="1208.5" y="343.5" width="6" height="45" fill="#dc5845" stroke="#5c1010" stroke-width="1"/>
<rect x="1220.0" y="365" width="1" height="5" fill="#6e6e70"/>
<rect x="1220.0" y="388" width="1" height="25" fill="#6e6e70"/>
<rect x="1217.5" y="370.5" width="6" height="17" fill="#6fa787" stroke="#1b4d2e" stroke-width="1"/>
<rect x="1229.0" y="367" width="1" height="3" fill="#6e6e70"/>
<rect x="1229.0" y="396" width="1" height="1" fill="#6e6e70"/>
<rect x="1226.5" y="370.5" width="6" height="25" fill="#dc5845" stroke="#5c1010" stroke-width="1"/>
<rect x="1239.0" y="367" width="1" height="8" fill="#6e6e70"/>
<rect x="1236.5" y="375.5" width="6" height="22" fill="#6fa787" stroke="#1b4d2e" stroke-width="1"/>
<rect x="1248.0" y="374" width="1" height="4" fill="#6e6e70"/>
<rect x="1248.0" y="394" width="1" height="11" fill="#6e6e70"/>
<rect x="1245.5" y="378.5" width="6" height="15" fill="#dc5845" stroke="#5c1010" stroke-width="1"/>
<rect x="1257.0" y="389" width="1" height="6" fill="#6e6e70"/>
<rect x="1257.0" y="405" width="1" height="8" fill="#6e6e70"/>
<rect x="1254.5" y="395.5" width="6" height="9" fill="#dc5845" stroke="#5c1010" stroke-width="1"/>
<rect x="1266.0" y="370" width="1" height="5" fill="#6e6e70"/>
<rect x="1266.0" y="405" width="1" height="3" fill="#6e6e70"/>
<rect x="1263.5" y="375.5" width="6" height="29" fill="#6fa787" stroke="#1b4d2e" stroke-width="1"/>
<rect x="1273.5" y="373.5" width="6" height="2" fill="#6fa787" stroke="#1b4d2e" stroke-width="1"/>
<rect x="1285.0" y="324" width="1" height="9" fill="#6e6e70"/>
<rect x="1285.0" y="388" width="1" height="5" fill="#6e6e70"/>
<rect x="1282.5" y="333.5" width="6" height="54" fill="#6fa787" stroke="#1b4d2e" stroke-width="1"/>
<rect x="1294.0" y="319" width="1" height="14" fill="#6e6e70"/>
<rect x="1294.0" y="341" width="1" height="3" fill="#6e6e70"/>
<rect x="1291.5" y="333.5" width="6" height="7" fill="#dc5845" stroke="#5c1010" stroke-width="1"/>
<rect x="1303.0" y="317" width="1" height="23" fill="#6e6e70"/>
<rect x="1303.0" y="352" width="1" height="1" fill="#6e6e70"/>
<rect x="1300.5" y="340.5" width="6" height="11" fill="#dc5845" stroke="#5c1010" stroke-width="1"/>
<rect x="1312.0" y="337" width="1" height="11" fill="#6e6e70"/>
<rect x="1312.0" y="365" width="1" height="6" fill="#6e6e70"/>
<rect x="1309.5" y="348.5" width="6" height="16" fill="#dc5845" stroke="#5c1010" stroke-width="1"/>
<rect x="1322.0" y="307" width="1" height="2" fill="#6e6e70"/>
<rect x="1322.0" y="363" width="1" height="6" fill="#6e6e70"/>
<rect x="1319.5" y="309.5" width="6" height="53" fill="#6fa787" stroke="#1b4d2e" stroke-width="1"/>
<rect x="1331.0" y="286" width="1" height="1" fill="#6e6e70"/>
<rect x="1331.0" y="304" width="1" height="2" fill="#6e6e70"/>
<rect x="1328.5" y="287.5" width="6" height="16" fill="#6fa787" stroke="#1b4d2e" stroke-width="1"/>
<rect x="1340.0" y="282" width="1" height="5" fill="#6e6e70"/>
<rect x="1340.0" y="315" width="1" height="7" fill="#6e6e70"/>
<rect x="1337.5" y="287.5" width="6" height="27" fill="#dc5845" stroke="#5c1010" stroke-width="1"/>
<rect x="1349.0" y="204" width="1" height="11" fill="#6e6e70"/>
<rect x="1349.0" y="313" width="1" height="13" fill="#6e6e70"/>
<rect x="1346.5" y="215.5" width="6" height="97" fill="#6fa787" stroke="#1b4d2e" stroke-width="1"/>
</g>
<rect x="8" y="62" width="546" height="24" fill="#fff" fill-opacity="0.6"/>
<rect x="7" y="735.5" width="160" height="15" fill="#fff" fill-opacity="0.6"/>
<rect x="7" y="693" width="124" height="16" fill="#fff" fill-opacity="0.6"/>
<g clip-path="url(#flag)"><rect x="11" y="8" width="21" height="20" fill="#f8fdfd"/><rect x="11" y="8.8" width="21" height="4.2" fill="#ee5350"/><rect x="11" y="16.1" width="21" height="3.6" fill="#ee5350"/><rect x="11" y="23" width="21" height="5" fill="#ee5350"/><rect x="11" y="8" width="12" height="11.7" fill="#1b7fe6"/>
<circle cx="14.4" cy="11.5" r="0.6" fill="#fff"/>
<circle cx="17.4" cy="11.5" r="0.6" fill="#fff"/>
<circle cx="20.4" cy="11.5" r="0.6" fill="#fff"/>
<circle cx="14.4" cy="14.5" r="0.6" fill="#fff"/>
<circle cx="17.4" cy="14.5" r="0.6" fill="#fff"/>
<circle cx="20.4" cy="14.5" r="0.6" fill="#fff"/>
<circle cx="14.4" cy="17.5" r="0.6" fill="#fff"/>
<circle cx="17.4" cy="17.5" r="0.6" fill="#fff"/>
<circle cx="20.4" cy="17.5" r="0.6" fill="#fff"/>
</g>
<text x="34.8" y="23.3" font-size="15" fill="#4a4a4a" font-weight="normal" text-anchor="start" textLength="302.8" lengthAdjust="spacingAndGlyphs">US Government Bonds 2 YR Yield · 1D · TVC</text>
<circle cx="362.2" cy="17.9" r="8.8" fill="#daf0ea"/><circle cx="362.2" cy="17.9" r="4" fill="#0e9981"/>
<text x="387.4" y="23" font-size="13" fill="#555" font-weight="normal" text-anchor="start" textLength="6.8" lengthAdjust="spacingAndGlyphs">O</text>
<text x="395.9" y="23" font-size="13" fill="#2f6b4f" font-weight="normal" text-anchor="start" textLength="40.3" lengthAdjust="spacingAndGlyphs">4.745%</text>
<text x="442.8" y="23" font-size="13" fill="#555" font-weight="normal" text-anchor="start" textLength="7.3" lengthAdjust="spacingAndGlyphs">H</text>
<text x="452.1" y="23" font-size="13" fill="#2f6b4f" font-weight="normal" text-anchor="start" textLength="39.8" lengthAdjust="spacingAndGlyphs">4.946%</text>
<text x="498.9" y="23" font-size="13" fill="#555" font-weight="normal" text-anchor="start" textLength="5" lengthAdjust="spacingAndGlyphs">L</text>
<text x="505" y="23" font-size="13" fill="#2f6b4f" font-weight="normal" text-anchor="start" textLength="39.8" lengthAdjust="spacingAndGlyphs">4.720%</text>
<text x="552.1" y="23" font-size="13" fill="#555" font-weight="normal" text-anchor="start" textLength="7" lengthAdjust="spacingAndGlyphs">C</text>
<text x="560.9" y="23" font-size="13" fill="#2f6b4f" font-weight="normal" text-anchor="start" textLength="38.5" lengthAdjust="spacingAndGlyphs">4.926%</text>
<text x="607" y="23" font-size="13" fill="#2f6b4f" font-weight="normal" text-anchor="start" textLength="36.5" lengthAdjust="spacingAndGlyphs">+0.183</text>
<text x="651.1" y="23" font-size="13" fill="#2f6b4f" font-weight="normal" text-anchor="start" textLength="46.6" lengthAdjust="spacingAndGlyphs">(+3.86%)</text>
<rect x="11.5" y="34.5" width="47" height="23" rx="4" fill="#fff" stroke="#f23645" stroke-width="1"/>
<rect x="102.5" y="34.5" width="47" height="23" rx="4" fill="#fff" stroke="#2962ff" stroke-width="1"/>
<text x="35" y="50.6" font-size="12.5" fill="#f23645" font-weight="normal" text-anchor="middle" textLength="31" lengthAdjust="spacingAndGlyphs">4.955</text>
<text x="80.5" y="50.6" font-size="12" fill="#333" font-weight="normal" text-anchor="middle" textLength="27" lengthAdjust="spacingAndGlyphs">0.004</text>
<text x="126" y="50.6" font-size="12.5" fill="#2962ff" font-weight="normal" text-anchor="middle" textLength="31" lengthAdjust="spacingAndGlyphs">4.959</text>
<text x="12.4" y="78.5" font-size="12" fill="#555" font-weight="normal" text-anchor="start" textLength="382.5" lengthAdjust="spacingAndGlyphs">MA Ribbon SMA close 20 SMA close 50 SMA close 100 SMA close 200</text>
<text x="403.7" y="78.5" font-size="12" fill="#f23645" font-weight="normal" text-anchor="start" textLength="39" lengthAdjust="spacingAndGlyphs">4.684%</text>
<text x="449.6" y="78.5" font-size="12" fill="#2962ff" font-weight="normal" text-anchor="start" textLength="39" lengthAdjust="spacingAndGlyphs">4.610%</text>
<text x="495.5" y="78.5" font-size="12" fill="#333" font-weight="normal" text-anchor="start" textLength="7" lengthAdjust="spacingAndGlyphs">∅</text>
<text x="509.3" y="78.5" font-size="12" fill="#111" font-weight="normal" text-anchor="start" textLength="39.4" lengthAdjust="spacingAndGlyphs">4.749%</text>
<rect x="12.5" y="88.5" width="28" height="20" rx="3" fill="#fff" fill-opacity="0.82" stroke="#d3d6e2" stroke-width="1"/>
<path d="M22.5 101 L26.7 97 L30.9 101" fill="none" stroke="#333" stroke-width="1.3"/>
<text x="12.3" y="704.8" font-size="12" fill="#555" font-weight="normal" text-anchor="start" textLength="66.5" lengthAdjust="spacingAndGlyphs">ATR 14 RMA</text>
<text x="87.5" y="704.8" font-size="12" fill="#c62828" font-weight="normal" text-anchor="start" textLength="39.5" lengthAdjust="spacingAndGlyphs">0.085%</text>
<text x="12.3" y="744" font-size="12" fill="#555" font-weight="normal" text-anchor="start" textLength="101.5" lengthAdjust="spacingAndGlyphs">CCI 20 hlc3 SMA 5</text>
<text x="122.3" y="744" font-size="12" fill="#2962ff" font-weight="normal" text-anchor="start" textLength="38" lengthAdjust="spacingAndGlyphs">223.89</text>
<g transform="translate(14.9,774.4) scale(0.84,0.795) translate(0,-4)" fill="#131722"><path d="M14 22H7V11H0V4h14v18z"/><path d="M28 22h-8l7.5-18h8L28 22z"/><circle cx="20" cy="8" r="4"/></g>
<rect x="1446" y="2" width="1" height="828" fill="#4d4d4f"/>
<rect x="3" y="803" width="1503" height="1" fill="#4d4d4f"/>
<rect x="1450.5" y="6.5" width="51" height="25" rx="4" fill="#fff" stroke="#e0e3eb" stroke-width="1"/>
<text x="1453.8" y="23" font-size="10" fill="#131722" font-weight="normal" text-anchor="start" textLength="7.5" lengthAdjust="spacingAndGlyphs">%</text>
<text x="1454.6" y="72.3" font-size="12" fill="#555" font-weight="normal" text-anchor="start" textLength="35.6" lengthAdjust="spacingAndGlyphs">5.200%</text>
<text x="1454.6" y="125.8" font-size="12" fill="#555" font-weight="normal" text-anchor="start" textLength="35.6" lengthAdjust="spacingAndGlyphs">5.100%</text>
<text x="1454.6" y="179.60000000000002" font-size="12" fill="#555" font-weight="normal" text-anchor="start" textLength="35.6" lengthAdjust="spacingAndGlyphs">5.000%</text>
<text x="1454.6" y="233.4" font-size="12" fill="#555" font-weight="normal" text-anchor="start" textLength="35.6" lengthAdjust="spacingAndGlyphs">4.900%</text>
<text x="1454.6" y="287.2" font-size="12" fill="#555" font-weight="normal" text-anchor="start" textLength="35.6" lengthAdjust="spacingAndGlyphs">4.800%</text>
<text x="1454.6" y="340.90000000000003" font-size="12" fill="#555" font-weight="normal" text-anchor="start" textLength="35.6" lengthAdjust="spacingAndGlyphs">4.700%</text>
<text x="1454.6" y="394.7" font-size="12" fill="#555" font-weight="normal" text-anchor="start" textLength="35.6" lengthAdjust="spacingAndGlyphs">4.600%</text>
<text x="1454.6" y="448.5" font-size="12" fill="#555" font-weight="normal" text-anchor="start" textLength="35.6" lengthAdjust="spacingAndGlyphs">4.500%</text>
<text x="1454.6" y="502.3" font-size="12" fill="#555" font-weight="normal" text-anchor="start" textLength="35.6" lengthAdjust="spacingAndGlyphs">4.400%</text>
<text x="1454.6" y="556.0999999999999" font-size="12" fill="#555" font-weight="normal" text-anchor="start" textLength="35.6" lengthAdjust="spacingAndGlyphs">4.300%</text>
<text x="1454.6" y="609.8" font-size="12" fill="#555" font-weight="normal" text-anchor="start" textLength="35.6" lengthAdjust="spacingAndGlyphs">4.200%</text>
<text x="1454.6" y="663.5999999999999" font-size="12" fill="#555" font-weight="normal" text-anchor="start" textLength="35.6" lengthAdjust="spacingAndGlyphs">4.100%</text>
<text x="1453.9" y="704.0999999999999" font-size="12" fill="#555" font-weight="normal" text-anchor="start" textLength="36.3" lengthAdjust="spacingAndGlyphs">0.100%</text>
<clipPath id="ccip"><rect x="1447" y="723" width="60" height="79"/></clipPath><g clip-path="url(#ccip)">
<text x="1454.6" y="727.8" font-size="12" fill="#555" font-weight="normal" text-anchor="start" textLength="35" lengthAdjust="spacingAndGlyphs">250.00</text>
</g>
<text x="1454.6" y="761.6999999999999" font-size="12" fill="#555" font-weight="normal" text-anchor="start" textLength="23" lengthAdjust="spacingAndGlyphs">0.00</text>
<text x="1455.4" y="795.5" font-size="12" fill="#555" font-weight="normal" text-anchor="start" textLength="39.8" lengthAdjust="spacingAndGlyphs">-250.00</text>
<path d="M1446 104.2h47.5a2.5 2.5 0 0 1 2.5 2.5v11.5a2.5 2.5 0 0 1 -2.5 2.5h-47.5z" fill="#000"/>
<text x="1454.2" y="117.0" font-size="12" fill="#fff" font-weight="bold" text-anchor="start" textLength="36.5" lengthAdjust="spacingAndGlyphs">5.118%</text>
<path d="M1446 122.5h47.5a2.5 2.5 0 0 1 2.5 2.5v11.5a2.5 2.5 0 0 1 -2.5 2.5h-47.5z" fill="#000"/>
<text x="1454.2" y="135.3" font-size="12" fill="#fff" font-weight="bold" text-anchor="start" textLength="36.5" lengthAdjust="spacingAndGlyphs">5.085%</text>
<path d="M1446 230.8h47.5a2.5 2.5 0 0 1 2.5 2.5v11.5a2.5 2.5 0 0 1 -2.5 2.5h-47.5z" fill="#2962ff"/>
<text x="1454.2" y="243.60000000000002" font-size="12" fill="#fff" font-weight="bold" text-anchor="start" textLength="36.5" lengthAdjust="spacingAndGlyphs">4.882%</text>
<path d="M1446 512.1h47.5a2.5 2.5 0 0 1 2.5 2.5v11.5a2.5 2.5 0 0 1 -2.5 2.5h-47.5z" fill="#2962ff"/>
<text x="1454.2" y="524.9" font-size="12" fill="#fff" font-weight="bold" text-anchor="start" textLength="36.5" lengthAdjust="spacingAndGlyphs">4.359%</text>
<path d="M1446 560.8h47.5a2.5 2.5 0 0 1 2.5 2.5v11.5a2.5 2.5 0 0 1 -2.5 2.5h-47.5z" fill="#2962ff"/>
<text x="1454.2" y="573.5999999999999" font-size="12" fill="#fff" font-weight="bold" text-anchor="start" textLength="36.5" lengthAdjust="spacingAndGlyphs">4.268%</text>
<path d="M1446 661.0h47.5a2.5 2.5 0 0 1 2.5 2.5v11.5a2.5 2.5 0 0 1 -2.5 2.5h-47.5z" fill="#2962ff"/>
<text x="1454.2" y="673.8" font-size="12" fill="#fff" font-weight="bold" text-anchor="start" textLength="36.5" lengthAdjust="spacingAndGlyphs">4.081%</text>
<rect x="1446" y="683" width="60" height="1" fill="#e0e3eb"/>
<rect x="1446" y="722" width="60" height="1" fill="#e0e3eb"/>
<text x="1275.3 1302.3 1330.3 1355.3 1375.3 1409.8 1433.3 1452.8 1479.3" y="828.6999999999999" font-size="32.5" font-weight="bold" font-style="italic" fill="#9fb0cf" stroke="#9fb0cf" stroke-width="1.4" stroke-linejoin="round">ezrt01.cn</text>
<text x="1274 1301 1329 1354 1374 1408.5 1432 1451.5 1478" y="827.4" font-size="32.5" font-weight="bold" font-style="italic" fill="#7ab6f6" stroke="#7ab6f6" stroke-width="1.4" stroke-linejoin="round">ezrt01.cn</text>
<g clip-path="url(#card)">
<clipPath id="c18"><rect x="4" y="806" width="20" height="22"/></clipPath>
<text x="9.8" y="821.3" font-size="12" fill="#444" text-anchor="end" clip-path="url(#c18)" textLength="11.5" lengthAdjust="spacingAndGlyphs">18</text>
<text x="96.2" y="821.3" font-size="12" fill="#444" font-weight="normal" text-anchor="middle" textLength="17.6" lengthAdjust="spacingAndGlyphs">Oct</text>
<text x="188.2" y="821.3" font-size="12" fill="#444" font-weight="normal" text-anchor="middle" textLength="11.5" lengthAdjust="spacingAndGlyphs">16</text>
<text x="299.2" y="821.3" font-size="12" fill="#444" font-weight="normal" text-anchor="middle" textLength="19.6" lengthAdjust="spacingAndGlyphs">Nov</text>
<text x="418.2" y="821.3" font-size="12" fill="#444" font-weight="normal" text-anchor="middle" textLength="11.5" lengthAdjust="spacingAndGlyphs">20</text>
<text x="501.2" y="821.3" font-size="12" fill="#444" font-weight="normal" text-anchor="middle" textLength="18.5" lengthAdjust="spacingAndGlyphs">Dec</text>
<text x="603.2" y="821.3" font-size="12" fill="#444" font-weight="normal" text-anchor="middle" textLength="11.5" lengthAdjust="spacingAndGlyphs">18</text>
<text x="686.2" y="821.3" font-size="12" fill="#444" font-weight="normal" text-anchor="middle" textLength="23" lengthAdjust="spacingAndGlyphs">2024</text>
<text x="778.2" y="821.3" font-size="12" fill="#444" font-weight="normal" text-anchor="middle" textLength="11.5" lengthAdjust="spacingAndGlyphs">15</text>
<text x="898.2" y="821.3" font-size="12" fill="#444" font-weight="normal" text-anchor="middle" textLength="18.5" lengthAdjust="spacingAndGlyphs">Feb</text>
<text x="1008.2" y="821.3" font-size="12" fill="#444" font-weight="normal" text-anchor="middle" textLength="11.5" lengthAdjust="spacingAndGlyphs">19</text>
<text x="1091.2" y="821.3" font-size="12" fill="#444" font-weight="normal" text-anchor="middle" textLength="18.5" lengthAdjust="spacingAndGlyphs">Mar</text>
<text x="1193.2" y="821.3" font-size="12" fill="#444" font-weight="normal" text-anchor="middle" textLength="11.5" lengthAdjust="spacingAndGlyphs">18</text>
<text x="1285.2" y="821.3" font-size="12" fill="#444" font-weight="normal" text-anchor="middle" textLength="18.5" lengthAdjust="spacingAndGlyphs">Apr</text>
<text x="1377.2" y="821.3" font-size="12" fill="#444" font-weight="normal" text-anchor="middle" textLength="11.5" lengthAdjust="spacingAndGlyphs">15</text>
</g>
<polygon points="1483.6,817.4 1480.0,823.6 1472.8,823.6 1469.2,817.4 1472.8,811.2 1480.0,811.2" fill="none" stroke="#131722" stroke-width="1.1"/><circle cx="1476.4" cy="817.4" r="2.2" fill="none" stroke="#131722" stroke-width="1.1"/>
<g opacity="0.72" filter="url(#sh)"><text x="1263" y="788.5" font-size="57.5" font-weight="900" fill="#fff" stroke="#fff" stroke-width="0.9" stroke-linejoin="round" transform="translate(1263 788.5) skewX(-14) translate(-1263 -788.5)" textLength="236" lengthAdjust="spacingAndGlyphs" style="font-family:'Liberation Sans','Noto Sans CJK SC',sans-serif">海与财经</text></g>
</svg></body></html>
